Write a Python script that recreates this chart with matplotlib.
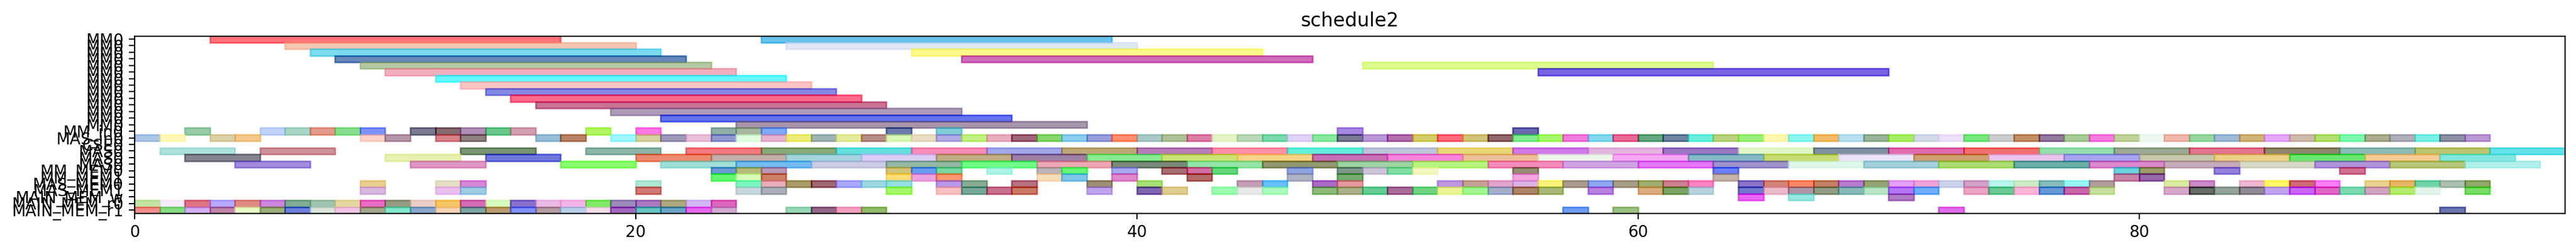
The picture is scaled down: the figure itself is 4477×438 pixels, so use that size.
import numpy as np
import matplotlib
matplotlib.use('Agg')
import matplotlib.pyplot as plt
from matplotlib.colors import to_rgb

labels = ['MM0'] * 14 + ['MM_in0', 'MAS_in0', 'CSE0', 'MAS0', 'MAS0', 'MAS0',
                         'MM_MEM0', 'MM_MEM1', 'MAS_MEM0', 'MAS_MEM1',
                         'MAIN_MEM_w', 'MAIN_MEM_r0', 'MAIN_MEM_r1']

# long MM tasks, one row per entry
mm_rows = [0, 0, 1, 1, 2, 2, 3, 3, 4, 4, 5, 5, 6, 7, 8, 9, 10, 11, 12, 13]
mm_starts = [3, 25, 6, 26, 7, 31, 8, 33, 9, 49, 10, 56, 12, 13, 14, 15, 16, 19, 21, 24]
mm_colors = ['#ff737b', '#68c3ef', '#f8c8b3', '#e0e8f5', '#7cdcee', '#faf98a', '#6588bb',
             '#cf6cbb', '#b5c9a3', '#dcfa90', '#f2afbe', '#7a65e5', '#62f8fd', '#fdc4c4',
             '#8689e4', '#ff6b8c', '#ca7395', '#ae9bb9', '#6273ef', '#a897ad']

mm_in_starts = [2, 5, 6, 7, 8, 9, 11, 12, 13, 14, 15, 18, 20, 23, 24, 25, 30, 32, 48, 55]
mm_in_colors = ['#98cca8', '#c0d2f8', '#a9d5c6', '#e69a8c', '#88e08e', '#7f92fb', '#7b7a8f',
                '#866b70', '#b28fb9', '#6ac78c', '#d29fb0', '#b3f560', '#ff78e4', '#92aeaa',
                '#a6b89c', '#7fa8f8', '#6b7ba8', '#7fcdd6', '#a887e2', '#6a68b0']

mas_in_starts = [0, 1, 3, 4, 9, 10, 12, 13, 16, 17] + list(range(19, 94))
mas_in_colors = ['#adc6e5', '#fdf8b8', '#ddd0a8', '#f3c98c', '#fdd2c6', '#b597a9', '#d5828a',
                 '#8d8280', '#97bfd8', '#b98569', '#9df8fc', '#d6d2a0', '#a099b9', '#e8c0d8',
                 '#9298d0', '#e0fce0', '#e6b6d0', '#ecec78', '#a2b5b5', '#e4ec98', '#b98f88',
                 '#d8f8b8', '#e8dcc4', '#b3ace5', '#c2f080', '#e8b0be', '#9f667a', '#87d66e',
                 '#8dcdee', '#999fda', '#ff8e6e', '#abc9c9', '#b0c298', '#dd7fa8', '#e4f4c8',
                 '#bcd9b8', '#7bdaae', '#e0d2f8', '#88e8a0', '#7b7b93', '#bb99d8', '#b36fac',
                 '#d4cc68', '#ff6a7c', '#cfc478', '#92686d', '#80ec90', '#a8f86c', '#f07cdc',
                 '#84d8ec', '#e86a96', '#68a880', '#6f84a0', '#6cf0dc', '#bcd480', '#9cf07c',
                 '#fdf6b0', '#8cf6ee', '#f2bc68', '#b8dff0', '#9ab59a', '#a6ee5e', '#d2dae8',
                 '#ece0fa', '#78e880', '#cccccf', '#c29068', '#937a9c', '#a8cc98', '#f47ce0',
                 '#c2d29c', '#eef8f0', '#efb8ac', '#98d8a0', '#a0bcd8', '#d0b478', '#e4a8f8',
                 '#cfbcac', '#b2e070', '#7ff8b0', '#aeae90', '#b0aebc', '#7cf0e4', '#8e92a4',
                 '#ba99d4']

mas0_starts = [1, 5, 13, 18, 22, 25, 28, 31, 34, 37, 40, 43, 46, 49, 52, 55, 58, 61, 64, 67,
               70, 73, 76, 79, 82, 85, 88, 91, 94]
mas0_colors = ['#aee2dc', '#d09098', '#7a9474', '#8cb5a6', '#f37a80', '#88a878', '#68e0e0',
               '#f78cb8', '#a3a8ec', '#bea878', '#b87cb8', '#ff90a8', '#66eedc', '#bec4d8',
               '#e8d878', '#d07ae8', '#e4b4e0', '#9a78c4', '#e2f8c8', '#8090a0', '#e06cae',
               '#f27070', '#94e0b0', '#9caa94', '#e27590', '#90876c', '#8cbcb4', '#bcc470',
               '#64e2ea']

mas1_starts = [2, 10, 14, 20, 23, 26, 29, 32, 35, 38, 41, 44, 47, 50, 53, 56, 59, 62, 65, 68,
               71, 74, 77, 80, 83, 86, 89, 92]
mas1_colors = ['#84848f', '#e8f0b0', '#7078dc', '#ec8a6e', '#c4aeaa', '#a4d5dc', '#dccdf8',
               '#c2ae84', '#9e7fa4', '#88ec90', '#cce474', '#f8d488', '#c86eb4', '#f484dc',
               '#ecc098', '#eef6ec', '#f8a8f4', '#86bac8', '#c8dc70', '#ece4f6', '#d0a070',
               '#ecc4ec', '#a8a4f0', '#c8c8ac', '#ecd088', '#6ce870', '#f8cc94', '#84e8e0']

mas2_starts = [4, 11, 17, 21, 24, 27, 30, 33, 36, 39, 42, 45, 48, 51, 54, 57, 60, 63, 66, 69,
               72, 75, 78, 81, 84, 87, 90, 93]
mas2_colors = ['#a08ce0', '#e098c4', '#8cfc70', '#a0e0d8', '#74bcf0', '#cccce4', '#94b8a4',
               '#70fc88', '#eea8b4', '#7a8a7a', '#94e4a8', '#929870', '#a0d4a4', '#b8f480',
               '#f48cbc', '#d0a4e4', '#e478f4', '#a094cc', '#e0f8ec', '#a4d0dc', '#acdc74',
               '#6cb0a8', '#dc88cc', '#c8acbc', '#d8d8c8', '#b094dc', '#b8c87c', '#b4f0ec']

mm_mem0_starts = [23, 24, 25, 30, 31, 32, 34, 36, 37, 39, 41, 42, 43, 46, 48, 49, 50, 51, 55,
                  63, 79, 80, 83, 88]
mm_mem0_colors = ['#6a9cd4', '#b4bc78', '#bc98b4', '#d4c478', '#6a9cf0', '#7cd6a0', '#aef4e4',
                  '#bcb4b8', '#64f878', '#a8a8f0', '#aa6e74', '#d470a4', '#64d67c', '#90a4e0',
                  '#80988c', '#ccc4d8', '#84dca4', '#f4f6c0', '#968c74', '#6c80fc', '#6cd4dc',
                  '#9c9c6c', '#9480dc', '#d07090']

mm_mem1_starts = [23, 24, 25, 30, 31, 32, 36, 37, 39, 42, 46, 48, 55, 63, 79, 80]
mm_mem1_colors = ['#64f870', '#d8fcbc', '#cc8060', '#fcdc78', '#eca4e0', '#f89870', '#f8dcb8',
                  '#80c4ec', '#e088cc', '#b46c68', '#b0b4c4', '#78ac70', '#f4a4e0', '#c4b4a8',
                  '#c884a8', '#9868a8']

mas_mem0_starts = [9, 12, 13, 20, 24, 25, 26, 27, 28, 29, 30, 32, 33, 35, 38, 40, 44, 45, 47,
                   48, 52, 53, 54, 55, 56, 57, 58, 59, 60, 61, 62, 64, 65, 66, 67, 68, 69, 70,
                   71, 72, 73, 74, 75, 76, 77, 78, 81, 82, 84, 85, 86, 87, 89, 90, 91, 92, 93]
mas_mem0_colors = ['#ecd090', '#e4e0c4', '#d888d8', '#b0e8d4', '#7cf8c0', '#ecb0bc', '#aa9c6c',
                   '#a06874', '#a8a8fc', '#9cd8e0', '#94e0e4', '#b898e8', '#88ac94', '#b87080',
                   '#9c9074', '#a8e078', '#c49cb4', '#68c0fc', '#ac68c8', '#e89aa0', '#bc98e0',
                   '#c8a094', '#e4a4cc', '#dcb4e4', '#f8f47c', '#ac9c90', '#90a8f0', '#a89e88',
                   '#a0b070', '#cc8090', '#fc84c0', '#8874c8', '#d48478', '#fc8868', '#c48068',
                   '#b87cd0', '#94a474', '#e4a0f4', '#f0a4dc', '#ccd4e8', '#d0a0c8', '#bcf4ec',
                   '#ccecc8', '#88bcbc', '#98f8f4', '#b09c9c', '#d8eca0', '#cc88c8', '#ecb8d0',
                   '#fcf864', '#d06878', '#f880f4', '#e8d490', '#e8b468', '#70d4a8', '#acc0b0',
                   '#90a86c']

mas_mem1_starts = [9, 12, 13, 20, 24, 25, 30, 32, 33, 34, 35, 38, 40, 41, 43, 44, 45, 47, 48,
                   49, 50, 51, 52, 53, 54, 55, 56, 58, 60, 61, 62, 64, 65, 66, 67, 68, 69, 70,
                   71, 73, 74, 75, 76, 77, 78, 81, 82, 83, 84, 85, 86, 87, 88, 89, 90, 91, 93]
mas_mem1_colors = ['#d8b8e0', '#ecc0f0', '#a0cce4', '#d47874', '#c8d8dc', '#a8b0b8', '#a4f868',
                   '#f8c0c0', '#78a898', '#c87090', '#cc7860', '#c0a4ec', '#8058b0', '#e0cc90',
                   '#9cfcb0', '#e8e8e8', '#acfcc0', '#8cbc78', '#acb088', '#60cc94', '#a86c98',
                   '#70d484', '#ecf498', '#a0f890', '#a4b0cc', '#ac8468', '#a8b878', '#b880e0',
                   '#dcac80', '#7ca464', '#b8d4e0', '#7478cc', '#ecbccc', '#b094a4', '#909c84',
                   '#88b8b8', '#b8e4c4', '#b478f8', '#70b0fc', '#eca4c4', '#6cc894', '#fcb4d8',
                   '#6498d8', '#c864a8', '#c8e09c', '#d8a8cc', '#646c5c', '#94a498', '#908a94',
                   '#c0a4f0', '#c864f8', '#e068c8', '#7cd8b0', '#d0a4c0', '#b4ec70', '#e4f4ec',
                   '#78dc60']

main_w_starts = [64, 66, 70]
main_w_colors = ['#ec68f8', '#98e8e0', '#b07cc4']

main_r0_starts = list(range(24))
main_r0_colors = ['#c4e4a4', '#f8ecfc', '#dc7484', '#b8a8fc', '#e08c84', '#cc88dc', '#80ac94',
                  '#a0c4b0', '#e4d8a0', '#e86cc4', '#989c84', '#eccfc8', '#f4c860', '#d46cb4',
                  '#d8fcc0', '#8870cc', '#ecbce4', '#f4b4e8', '#80e860', '#9c8cbc', '#a878c0',
                  '#aca880', '#d4b8f4', '#dc64bc']

main_r1_starts = list(range(24)) + [26, 27, 28, 29, 57, 59, 72, 92]
main_r1_colors = ['#f48c8c', '#84dc84', '#d4b0f4', '#c084a8', '#e8fcc8', '#9cb078', '#6c80dc',
                  '#dce4dc', '#f0c4e4', '#a4a88c', '#84e8cc', '#88a8cc', '#f8d4b4', '#7ca4a4',
                  '#bc9c6c', '#8090fc', '#b49ca4', '#b8d0e8', '#f4dcec', '#a468c0', '#68c4c0',
                  '#6ca4c8', '#e868ec', '#d0acd4', '#98d8b4', '#946888', '#f4a0c0', '#90bc6c',
                  '#6c9cf4', '#9cc080', '#e06cec', '#6c74b0']

x_ticks = [0, 20, 40, 60, 80]
ALPHA = 0.6


def base_color(shown):
    # colours above are as seen on white, undo the alpha
    rgb = (np.array(to_rgb(shown)) - (1 - ALPHA)) / ALPHA
    return tuple(np.clip(rgb, 0, 1))


def draw_bars(ax, rows, starts, duration, colors):
    base = [base_color(c) for c in colors]
    ax.barh(rows, [duration] * len(starts), left=starts, height=1.0,
            color=base, edgecolor=base, linewidth=1, alpha=ALPHA)


fig = plt.figure(figsize=(4477 / 200, 438 / 200), dpi=200)
ax = fig.add_axes([234 / 4477, 1 - 371 / 438, 4224 / 4477, 308 / 438])

draw_bars(ax, mm_rows, mm_starts, 14, mm_colors)
other_rows = [(14, mm_in_starts, mm_in_colors, 1),
              (15, mas_in_starts, mas_in_colors, 1),
              (17, mas0_starts, mas0_colors, 3),
              (18, mas1_starts, mas1_colors, 3),
              (19, mas2_starts, mas2_colors, 3),
              (20, mm_mem0_starts, mm_mem0_colors, 1),
              (21, mm_mem1_starts, mm_mem1_colors, 1),
              (22, mas_mem0_starts, mas_mem0_colors, 1),
              (23, mas_mem1_starts, mas_mem1_colors, 1),
              (24, main_w_starts, main_w_colors, 1),
              (25, main_r0_starts, main_r0_colors, 1),
              (26, main_r1_starts, main_r1_colors, 1)]
for row, starts, colors, duration in other_rows:
    draw_bars(ax, [row] * len(starts), starts, duration, colors)

ax.set_yticks(range(len(labels)))
ax.set_yticklabels(labels)
ax.set_xticks(x_ticks)
ax.set_xlim(0, 97)
ax.set_ylim(26.5, -0.44)
ax.set_title('schedule2')

fig.savefig('out.png', dpi=200)
